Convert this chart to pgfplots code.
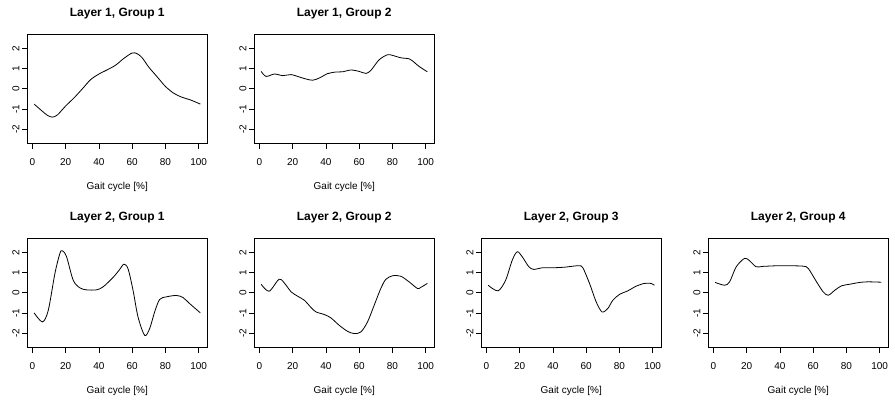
\documentclass[border=0pt]{standalone}
\usepackage{fontspec}
\setmainfont{Liberation Sans}
\usepackage{pgfplots}
\pgfplotsset{compat=1.18}

\pgfplotsset{
  gait/.style={
    scale only axis,
    width=179.5pt, height=108.3pt,
    xmin=-3, xmax=105, ymin=-2.7, ymax=2.7,
    xtick={0,20,40,60,80,100},
    xticklabels={0,20,40,60,80,100},
    ytick={-2,-1,0,1,2},
    yticklabels={-2,-1,0,1,2},
    tick align=outside,
    xtick pos=left, ytick pos=left,
    major tick length=5.7pt,
    axis line style={black, line width=0.8pt},
    every tick/.style={black, line width=0.8pt},
    tick label style={font=\fontsize{10}{12}\selectfont},
    xticklabel style={yshift=-17pt, anchor=base},
    yticklabel style={xshift=-2.5pt, rotate=90, anchor=base},
    every axis x label/.style={at={(axis description cs:0.5,0)}, anchor=base,
      yshift=-46.5pt, font=\fontsize{10}{12}\selectfont},
    xlabel={Gait cycle [\%]},
    every axis title/.style={at={(axis description cs:0.5,1)}, anchor=base,
      yshift=18.7pt, font=\bfseries\fontsize{12}{14}\selectfont},
    anchor=south west,
  },
  curve/.style={black, line width=0.8pt, smooth, no marks},
}

\begin{document}
\begin{tikzpicture}
\path[use as bounding box] (0,0) rectangle (895pt,402pt);

% ---- Layer 1 ----
\begin{axis}[gait, at={(27.5pt,259pt)}, title={Layer 1, Group 1}]
\addplot[curve] coordinates {
(1,-0.76) (5,-1.05) (9,-1.32) (12,-1.41) (15,-1.30) (20,-0.85) (25,-0.45)
(30,0.0) (35,0.46) (40,0.74) (45,0.95) (50,1.18) (55,1.52) (60,1.79)
(63,1.75) (66,1.55) (70,1.08) (75,0.60) (80,0.12) (85,-0.22) (90,-0.42)
(95,-0.55) (101,-0.76)};
\end{axis}

\begin{axis}[gait, at={(254.5pt,259pt)}, title={Layer 1, Group 2}]
\addplot[curve] coordinates {
(1,0.87) (4,0.62) (9,0.74) (14,0.66) (19,0.71) (24,0.59) (28,0.49)
(32,0.43) (36,0.54) (41,0.76) (46,0.84) (50,0.85) (55,0.94) (60,0.87)
(64,0.77) (67,0.92) (72,1.45) (77,1.70) (80,1.67) (85,1.55) (90,1.50)
(92,1.40) (96,1.12) (101,0.85)};
\end{axis}

% ---- Layer 2 ----
\begin{axis}[gait, at={(27.5pt,55pt)}, title={Layer 2, Group 1}]
\addplot[curve] coordinates {
(1,-1.0) (6,-1.45) (9.5,-0.87) (13.5,0.97) (16.5,1.97) (18,2.1) (20.5,1.8)
(24.5,0.63) (28.5,0.25) (32.5,0.15) (38.5,0.15) (42.5,0.3) (48.5,0.77)
(52.5,1.17) (55,1.43) (57.5,1.2) (60.5,0.13) (63.5,-1.2) (67.5,-2.12)
(70.5,-1.78) (73.5,-0.95) (76.5,-0.33) (80.5,-0.2) (86.5,-0.13)
(90.5,-0.23) (94.5,-0.53) (101,-1.0)};
\end{axis}

\begin{axis}[gait, at={(254.5pt,55pt)}, title={Layer 2, Group 2}]
\addplot[curve] coordinates {
(1,0.43) (5.8,0.08) (11.9,0.68) (16,0.38) (19,0.05) (23,-0.17) (27,-0.37)
(31,-0.73) (34,-0.95) (39,-1.08) (43,-1.25) (48,-1.62) (53,-1.92)
(57,-2.03) (61,-1.95) (65,-1.45) (69,-0.62) (73,0.22) (76,0.67) (80,0.85)
(85,0.83) (90,0.55) (95,0.22) (97,0.27) (101,0.47)};
\end{axis}

\begin{axis}[gait, at={(481.5pt,55pt)}, title={Layer 2, Group 3}]
\addplot[curve] coordinates {
(1,0.38) (6.9,0.1) (11.5,0.63) (15.5,1.63) (18.5,2.05) (21.5,1.8)
(25.5,1.3) (28.5,1.17) (33.5,1.25) (40,1.25) (47,1.28) (52,1.33) (56,1.35)
(58,1.25) (62,0.47) (66,-0.45) (69.5,-0.95) (73,-0.78) (76,-0.37)
(80,-0.08) (85,0.1) (90,0.33) (95,0.47) (99,0.47) (101,0.38)};
\end{axis}

\begin{axis}[gait, at={(708.5pt,55pt)}, title={Layer 2, Group 4}]
\addplot[curve] coordinates {
(1,0.52) (6.7,0.38) (9.7,0.55) (13.7,1.3) (18.7,1.72) (21.7,1.6)
(25.7,1.3) (29.7,1.32) (38,1.35) (46,1.35) (54,1.33) (57,1.22) (62,0.55)
(66,0.05) (69,-0.12) (73,0.13) (77,0.35) (82,0.43) (88,0.52) (93,0.55)
(101,0.53)};
\end{axis}
\end{tikzpicture}
\end{document}
